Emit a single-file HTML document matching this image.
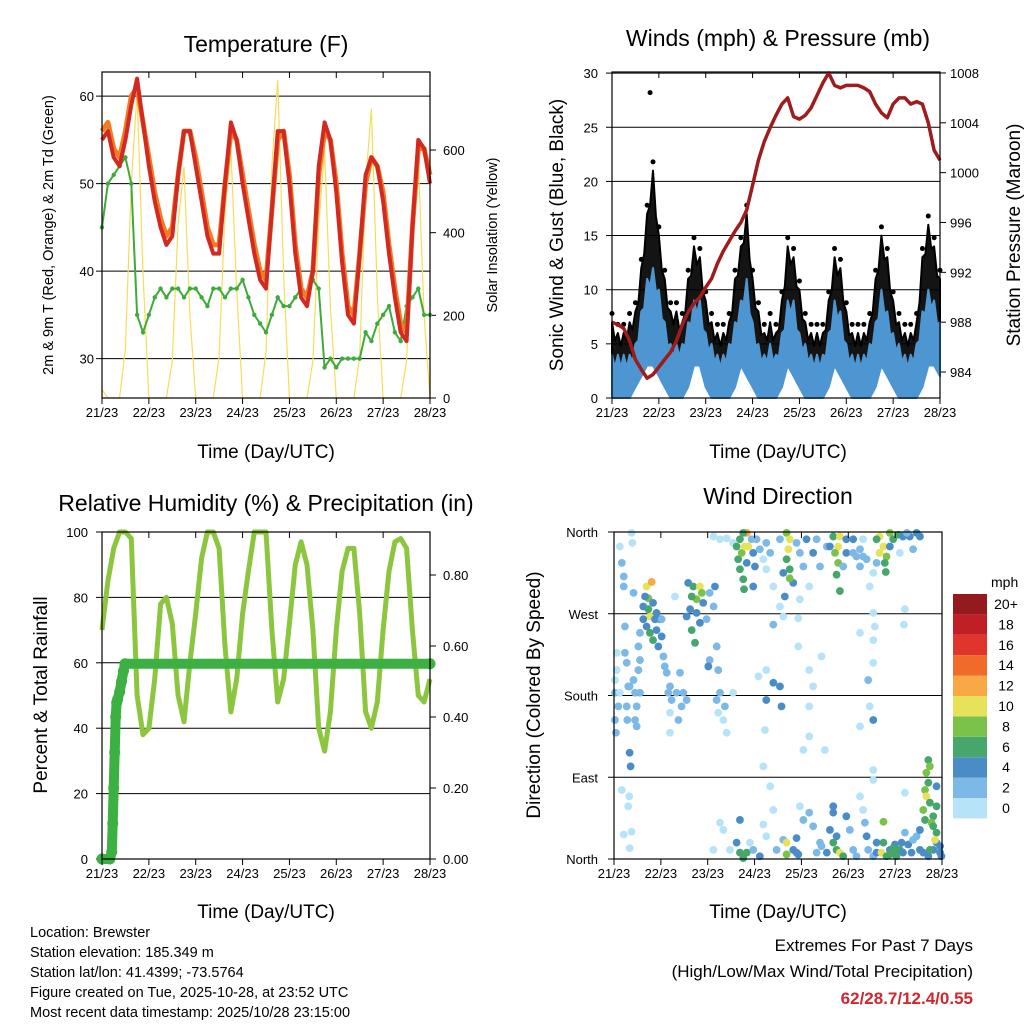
<!DOCTYPE html>
<html><head><meta charset="utf-8">
<style>
html,body{margin:0;padding:0;background:#fff;}
svg{display:block;font-family:"Liberation Sans",sans-serif;}
</style></head>
<body>
<svg id="chart" width="1024" height="1024" viewBox="0 0 1024 1024" xmlns="http://www.w3.org/2000/svg">
<rect x="0" y="0" width="1024" height="1024" fill="#fff"/>
<g id="g"></g>
<g fill="#000">
<text x="266" y="52" font-size="23" text-anchor="middle">Temperature (F)</text>
<text x="778" y="46" font-size="23" text-anchor="middle">Winds (mph) &amp; Pressure (mb)</text>
<text x="266" y="511" font-size="23" text-anchor="middle">Relative Humidity (%) &amp; Precipitation (in)</text>
<text x="778" y="504" font-size="23" text-anchor="middle">Wind Direction</text>
<text x="266" y="458" font-size="19" text-anchor="middle">Time (Day/UTC)</text>
<text x="778" y="458" font-size="19" text-anchor="middle">Time (Day/UTC)</text>
<text x="266" y="918" font-size="19" text-anchor="middle">Time (Day/UTC)</text>
<text x="778" y="918" font-size="19" text-anchor="middle">Time (Day/UTC)</text>
<text transform="translate(53,235) rotate(-90)" font-size="14.5" text-anchor="middle">2m &amp; 9m T (Red, Orange) &amp; 2m Td (Green)</text>
<text transform="translate(497,235) rotate(-90)" font-size="14.5" text-anchor="middle">Solar Insolation (Yellow)</text>
<text transform="translate(563,235) rotate(-90)" font-size="19" text-anchor="middle">Sonic Wind &amp; Gust (Blue, Black)</text>
<text transform="translate(1020,235) rotate(-90)" font-size="19" text-anchor="middle">Station Pressure (Maroon)</text>
<text transform="translate(47,695) rotate(-90)" font-size="19" text-anchor="middle">Percent &amp; Total Rainfall</text>
<text transform="translate(540,695) rotate(-90)" font-size="19" text-anchor="middle">Direction (Colored By Speed)</text>
</g>
<g font-size="14.5" fill="#000">
<text x="30" y="937">Location: Brewster</text>
<text x="30" y="957">Station elevation: 185.349 m</text>
<text x="30" y="977">Station lat/lon: 41.4399; -73.5764</text>
<text x="30" y="997">Figure created on Tue, 2025-10-28, at 23:52 UTC</text>
<text x="30" y="1017">Most recent data timestamp: 2025/10/28 23:15:00</text>
</g>
<g text-anchor="end">
<text x="973" y="951" font-size="17">Extremes For Past 7 Days</text>
<text x="973" y="977" font-size="17">(High/Low/Max Wind/Total Precipitation)</text>
<text x="973" y="1004" font-size="17" font-weight="bold" fill="#d0262c">62/28.7/12.4/0.55</text>
</g>
</svg>
<script>
// ---- data (3-hourly, hours 0..168 from 21/23) ----
const dayLabels = ["21/23","22/23","23/23","24/23","25/23","26/23","27/23","28/23"];
const temp2m = [55,56,53,52,55,59,62,57,52,48,45,43,44,51,56,56,52,48,44,42,42,50,57,55,50,46,42,39,38,47,56,56,50,42,37,36,40,52,57,55,49,41,35,34,42,51,53,52,48,42,37,33,32,45,55,54,50];
const temp9m = [56,57,54,53,56,60,61,57,53,49,46,44,45,51,56,56,53,49,45,43,43,50,56,55,51,47,43,40,39,47,55,56,51,43,38,37,40,51,56,55,50,42,36,35,42,50,53,52,49,43,38,34,33,45,54,54,51];
const dewpoint = [45,50,51,52,53,50,35,33,35,37,38,37,38,38,37,38,38,37,36,38,38,37,38,38,39,37,35,34,33,35,37,36,36,37,38,37,39,38,29,30,29,30,30,30,30,33,32,34,35,36,33,32,36,37,38,35,35];
const solar = [20,0,0,0,120,520,740,300, 0,0,0,0,90,420,560,200, 0,0,0,0,100,450,600,260, 0,0,0,0,110,560,770,300, 0,0,0,0,90,420,600,220, 0,0,0,0,100,520,700,250, 0,0,0,0,90,400,580,200,0];
const gustHigh = [7,6,6,7,8,12,17,21,15,11,8,8,7,11,14,13,9,7,6,6,7,11,14,17,11,8,6,7,6,9,14,13,10,7,6,6,6,9,13,12,8,6,6,6,7,11,15,13,9,7,6,6,7,13,16,14,11];
const gustLow = [2,2,1,1,2,4,5,6,4,3,2,2,2,3,5,5,3,2,2,1,2,3,5,4,3,2,1,1,2,3,5,4,3,1,1,1,1,3,5,4,2,1,1,1,2,3,5,4,3,2,1,1,2,3,5,4,4];
const windHigh = [4,4,4,4,5,8,11,12,10,7,5,5,5,7,9,9,6,5,4,4,5,7,9,11,7,5,4,5,4,6,9,9,6,5,4,4,4,6,9,8,5,4,4,4,5,7,10,8,6,5,4,4,5,8,10,9,7];
const windLow = [0,0,0,0,1,2,3,3,2,1,0,0,0,1,3,3,1,0,0,0,0,1,3,2,1,0,0,0,0,1,3,2,1,0,0,0,0,1,3,2,1,0,0,0,0,1,3,2,1,0,0,0,0,1,3,3,2];
const maxGustHour = 19.5;
const maxGustValue = 28.2;
const pressure = [988,987.8,987.5,986.5,985,984.2,983.5,983.8,984.4,985,985.6,986.5,987.8,988.8,989.5,990,990.8,991.5,992.7,993.7,994.5,995.3,996,997,999,1001,1002.5,1003.6,1004.6,1005.5,1006,1004.5,1004.3,1004.6,1005.2,1006.2,1007.2,1008,1007,1006.8,1007,1007,1007,1006.8,1006.5,1005.5,1004.8,1004.4,1005.5,1006,1006,1005.5,1005.7,1005.5,1004,1001.8,1001];
const humidity = [70,85,95,100,100,98,50,38,40,55,78,80,72,50,42,60,75,92,100,100,95,65,45,55,75,88,100,100,100,70,48,55,72,90,97,90,70,40,33,45,70,88,95,95,75,45,40,48,70,88,97,98,95,70,50,48,55];
const precipHours = [0,4,5,5.5,6,6.5,7,7.5,8,9,10,11,11.8,168];
const precipTotals = [0,0,0.02,0.1,0.2,0.3,0.4,0.44,0.45,0.47,0.5,0.53,0.55,0.55];
const speedLevels = ["0","2","4","6","8","10","12","14","16","18","20+"];
const speedColors = ["#b6e3f8","#7cb9e6","#4a8dc6","#46a66c","#7bc24a","#e6e25a","#f8a844","#f06a2a","#e0352a","#c01f26","#941a1d"];
const dirObs = [
[0.5,197,1],[0.5,183,2],[1,139,2],[1.4,208,1],[3,344,1],[4,326,2],[5,311,2],[5,300,3],[5.6,256,3],[5.6,227,2],[6.5,216,2],[6.5,168,2],[6.8,153,3],[7.3,190,2],[8,117,4],[8.5,102,5],[9,359,0],[9.4,348,1],[10,293,2],[10,197,2],[10.8,183,3],[10.8,153,2],[11.6,168,2],[12.5,208,2],[12.5,234,2],[13.3,219,3],[13.3,183,2],[7.8,69,1],[7.3,58,0],[4,76,0],[5,27,0],[8,12,0],[9,30,1],[0.5,153,2],[2.2,168,2],[3,183,1],[1.4,227,1],[8,190,2],[11.6,146,2],
[16.7,300,10],[19.3,305,13],[17.6,287,8],[18.4,267,10],[15,264,4],[16.7,256,5],[20,282,4],[21.8,271,4],[23.5,264,4],[24.4,245,4],[18.4,249,6],[20,241,6],[21.8,252,4],[22.7,234,4],[15,278,4],[15.9,289,4],[13.3,249,2],[25.3,223,2],[27,205,2],[28.7,190,2],[29.5,175,2],[28.7,161,1],[28.7,139,0],[32,183,3],[33.8,205,3],[34.6,168,3],[33,153,2],[35.5,183,2],[37.2,175,2],[31.2,289,1],[21,264,5],[17.6,275,6],[24.4,264,3],[26,212,3],[27.8,183,3],
[38,304,4],[40.6,300,7],[44,300,10],[45,293,9],[42.3,286,8],[39.8,289,6],[39,275,4],[37.2,267,4],[42.3,271,5],[39.8,252,6],[41.5,238,6],[44,260,4],[45.7,282,4],[47.4,264,3],[49,293,3],[51.7,300,4],[51,278,2],[52.6,234,2],[53.4,208,2],[54.3,183,3],[56,153,1],[57.7,139,1],[53.4,161,1],[56.8,168,2],[61,183,1],[49,219,2],[48.3,212,4],[52.6,175,3],
[51,355,0],[54.3,352,1],[57.7,353,0],[61,348,1],[62.8,344,6],[63.6,330,7],[64.5,319,6],[66.2,308,6],[66.6,297,6],[65.4,337,8],[68,359,12],[67,344,10],[68.8,344,10],[71.3,337,4],[72.2,322,4],[71.3,300,4],[73,352,2],[74.7,341,2],[76.5,330,1],[78,348,2],[78,319,1],[80,337,2],[81.6,300,1],[85,278,1],[86.7,267,1],[81.6,258,3],[78,208,1],[81.6,194,4],[85,190,4],[85.8,168,4],[78,175,4],[77.3,142,1],[76.5,102,1],[74,201,1],[66.2,359,7],[64.5,352,6],[70.5,352,3],[68,326,5],
[88.4,359,8],[90,352,10],[89.3,341,10],[88.4,330,7],[90,319,6],[86.7,315,4],[91.8,304,4],[93.5,348,2],[95.2,337,2],[98.6,352,4],[97,322,2],[100,300,1],[95.2,286,1],[87.5,289,4],[90,309,8],[94.4,265,1],[94.4,234,1],[100,208,1],[102,190,1],[100,168,1],[100,135,1],[97,120,0],[108,120,0],[106.3,223,1],[85,352,3],[103.8,352,3],[102,337,4],[105.5,322,2],[109,344,2],
[112.3,355,7],[115.7,355,10],[114.8,344,10],[113.2,337,8],[114.8,326,8],[114,313,7],[115.7,295,6],[110.6,344,4],[119,337,4],[122.5,352,5],[124.2,333,2],[126,341,2],[129.4,330,2],[127.6,352,1],[119,352,4],[126,322,3],[117.4,322,2],[126,249,1],[132.8,271,1],[133.6,256,1],[132.8,216,1],[130.2,197,3],[131,168,1],[132.8,153,4],[132.8,98,1],[132.8,87,0],[126,146,0],[132.8,241,0],[122.5,337,2],[127.6,333,3],
[136,355,10],[138,344,10],[136,337,10],[139.6,333,8],[138.7,326,7],[139.2,316,6],[134.5,352,7],[141.3,359,8],[143,352,6],[145.6,357,6],[148,355,4],[151.5,355,4],[156.7,355,4],[153.2,341,2],[146.4,337,1],[141.3,344,4],[134.5,326,3],[132.8,315,1],[131,300,1],[149,275,1],[148.5,258,1],[155,359,4],[150,359,3],
[50.9,10,0],[54.3,40,0],[56,32,1],[59.4,10,0],[62.8,18,4],[64.5,7,6],[68,7,6],[66.2,1,6],[64.5,43,4],[69.6,18,1],[71.3,10,2],[74.7,3,4],[76.5,38,1],[78,25,1],[80,80,0],[81.6,54,1],[83.3,10,2],[86.7,21,3],[88.4,18,10],[88.4,5,8],[91.8,10,4],[93.5,23,4],[94.4,5,4],[97,43,2],[95.2,58,0],[100,51,3],[102,36,2],[103.8,7,2],[105.5,18,3],[109,7,4],[110.6,32,4],[112.3,58,5],[112.3,51,5],[112.3,18,7],[114,10,7],[115.7,7,10],[117.4,3,7],[119,47,4],[120.8,32,2],[122.5,10,2],[124.2,3,3],[126,69,0],[127.6,54,1],[128.5,40,2],[129.4,25,4],[130.2,10,3],[132.8,3,2],[134.5,18,4],[134.5,7,4],[137,7,10],[138,18,7],[138,41,8],[139.6,3,6],[141.3,10,4],[143,7,6],[143.9,16,4],[144.7,3,6],[146.4,10,6],[147.3,18,4],[148,7,4],[149,29,2],[150.7,16,4],[152.4,7,4],[153.2,21,3],[155,25,3],[156.7,10,4],[158.4,7,4],[161,3,4],[163.5,10,4],[165.2,18,4],[167,7,4],[167.7,3,4],[106.3,14,2],[141.3,5,6],[143,12,6],[93.5,7,4],[114,25,5],
[161,109,7],[161.8,102,8],[160,95,8],[161,84,7],[159.3,76,8],[160,69,10],[165.2,80,4],[161.8,62,7],[158.4,54,8],[159.3,43,6],[163.5,47,6],[162.6,40,8],[165.2,29,6],[164.4,21,10],[161.8,10,6],[156.7,32,4],[165.2,58,6],[167,14,4],[149,73,1],[163.5,36,7]
];

// ---- helpers ----
const NS = "http://www.w3.org/2000/svg";
const root = document.getElementById('g');
function mk(tag, attrs, parent){
  const e = document.createElementNS(NS, tag);
  for (const k in attrs) e.setAttribute(k, attrs[k]);
  (parent || root).appendChild(e);
  return e;
}
const hours = temp2m.map((_, i) => i * 3);
const P1 = {x0:102,x1:430,y0:72,y1:398};
const P2 = {x0:612,x1:940,y0:72,y1:398};
const P3 = {x0:102,x1:430,y0:532,y1:859};
const P4 = {x0:614,x1:942,y0:532,y1:859};
function xs(P, h){ return P.x0 + h / 168 * (P.x1 - P.x0); }
const yT = v => 398 - (v - 25.5) * 8.75;
const yS = v => 398 - v * 0.4133;
const yW = v => 398 - v * 10.83;
const yP = v => 372 - (v - 984) * 12.46;
const yR = v => 859 - v * 3.27;
const yPr = v => 859 - v * 355;
const yD = d => 859 - d / 360 * 327;
function pathFrom(P, xsArr, vals, yf){
  return vals.map((v, i) => (i ? 'L' : 'M') + xs(P, xsArr[i]).toFixed(1) + ',' + yf(v).toFixed(1)).join(' ');
}

// ---- axes ----
function frame(P, nm){
  const r = mk('rect', {x:P.x0, y:P.y0, width:P.x1-P.x0, height:P.y1-P.y0, fill:'none', stroke:'#000', 'stroke-width':1.2});
  
  
  dayLabels.forEach((lab, i) => {
    const x = xs(P, i * 24);
    const tb = mk('line', {x1:x, x2:x, y1:P.y1, y2:P.y1 + 6, stroke:'#000', 'stroke-width':1});
    
    
    const tt = mk('line', {x1:x, x2:x, y1:P.y0, y2:P.y0 + 6, stroke:'#000', 'stroke-width':1});
    
    
    const t = mk('text', {x:x, y:P.y1 + 19, 'font-size':13, 'text-anchor':'middle'});
    t.textContent = lab;
    
    
  });
}
function leftAxis(P, vals, labels, yf, grid, lx){
  vals.forEach((v, i) => {
    const y = yf(v);
    if (grid) {
      const g = mk('line', {x1:P.x0, x2:P.x1, y1:y, y2:y, stroke:'#000', 'stroke-width':1});
      
      
    }
    const tk = mk('line', {x1:P.x0 - 6, x2:P.x0, y1:y, y2:y, stroke:'#000'});
    
    
    const t = mk('text', {x:lx, y:y + 5, 'font-size':13, 'text-anchor':'end'});
    t.textContent = labels[i];
    
    
  });
}
function rightAxis(P, vals, labels, yf, lx){
  vals.forEach((v, i) => {
    const y = yf(v);
    const tk = mk('line', {x1:P.x1, x2:P.x1 + 6, y1:y, y2:y, stroke:'#000'});
    
    
    const t = mk('text', {x:lx, y:y + 5, 'font-size':13, 'text-anchor':'start'});
    t.textContent = labels[i];
    
    
  });
}

// ---- Panel 1: temperature ----
leftAxis(P1, [30,40,50,60], ["30","40","50","60"], yT, true, 94);
rightAxis(P1, [0,200,400,600], ["0","200","400","600"], yS, 443);
const solarLine = mk('path', {d:pathFrom(P1, hours, solar, yS), fill:'none', stroke:'#f7dc5a', 'stroke-width':1.2});


const dewLine = mk('path', {d:pathFrom(P1, hours, dewpoint, yT), fill:'none', stroke:'#3faa3c', 'stroke-width':2});


dewpoint.forEach((v, i) => {
  const c = mk('circle', {cx:xs(P1, hours[i]), cy:yT(v), r:2.2, fill:'#3faa3c'});
  
  
});
const t9 = mk('path', {d:pathFrom(P1, hours, temp9m, yT), fill:'none', stroke:'#f47c20', 'stroke-width':5, 'stroke-linejoin':'round'});


const t2 = mk('path', {d:pathFrom(P1, hours, temp2m, yT), fill:'none', stroke:'#d22a22', 'stroke-width':4, 'stroke-linejoin':'round'});


frame(P1, 'temperature');

// ---- Panel 2: winds & pressure ----
leftAxis(P2, [0,5,10,15,20,25,30], ["0","5","10","15","20","25","30"], yW, true, 598);
rightAxis(P2, [984,988,992,996,1000,1004,1008], ["984","988","992","996","1000","1004","1008"], yP, 950);
function band(P, hi, lo, yf){
  const top = [];
  hi.forEach((v, i) => {
    top.push(xs(P, hours[i]).toFixed(1) + ',' + yf(v).toFixed(1));
    if (i < hi.length - 1) {
      const xm = xs(P, hours[i] + 1.5);
      const vm = (v + hi[i + 1]) / 2 - 1.2;
      top.push(xm.toFixed(1) + ',' + yf(vm).toFixed(1));
    }
  });
  const bot = lo.map((v, i) => xs(P, hours[i]).toFixed(1) + ',' + yf(v).toFixed(1)).reverse();
  return top.concat(bot).join(' ');
}
const gustBand = mk('polygon', {points:band(P2, gustHigh, gustLow, yW), fill:'#000', stroke:'#000', 'stroke-width':2, 'stroke-linejoin':'round', 'fill-opacity':0.92});


gustHigh.forEach((v, i) => {
  const c = mk('circle', {cx:xs(P2, hours[i]), cy:yW(v + 0.8), r:2.5, fill:'#000'});
  
  
});
const mg = mk('circle', {cx:xs(P2, maxGustHour), cy:yW(maxGustValue), r:2.5, fill:'#000'});


const windBand = mk('polygon', {points:band(P2, windHigh, windLow, yW), fill:'#4d96d1', stroke:'#4d96d1', 'stroke-width':2, 'stroke-linejoin':'round'});


const pLine = mk('path', {d:pathFrom(P2, hours, pressure, yP), fill:'none', stroke:'#a01c1c', 'stroke-width':3.5, 'stroke-linejoin':'round'});


frame(P2, 'winds');

// ---- Panel 3: humidity & precip ----
leftAxis(P3, [0,20,40,60,80,100], ["0","20","40","60","80","100"], yR, true, 88);
rightAxis(P3, [0,0.2,0.4,0.6,0.8], ["0.00","0.20","0.40","0.60","0.80"], yPr, 443);
const rhLine = mk('path', {d:pathFrom(P3, hours, humidity, yR), fill:'none', stroke:'#8cc63f', 'stroke-width':5, 'stroke-linejoin':'round'});


const prLine = mk('path', {d:pathFrom(P3, precipHours, precipTotals, yPr), fill:'none', stroke:'#3cb043', 'stroke-width':10, 'stroke-linecap':'round', 'stroke-linejoin':'round'});


precipTotals.forEach((v, i) => {
  const c = mk('circle', {cx:xs(P3, precipHours[i]), cy:yPr(v), r:5.5, fill:'#3cb043'});
  
  
});
frame(P3, 'humidity');

// ---- Panel 4: wind direction ----
leftAxis(P4, [0,90,180,270,360], ["North","East","South","West","North"], yD, true, 598);
dirObs.forEach(o => {
  const idx = Math.min(10, Math.floor(o[2] / 2));
  const c = mk('circle', {cx:xs(P4, o[0]), cy:yD(o[1]), r:3.9, fill:speedColors[idx]});
  
  
});
frame(P4, 'direction');

// ---- colorbar ----
const cbTitle = mk('text', {x:991, y:587, 'font-size':14});
cbTitle.textContent = 'mph';


speedLevels.forEach((lab, i) => {
  const y = 594 + (10 - i) * 20.4;
  const r = mk('rect', {x:953, y:y, width:34, height:20.4, fill:speedColors[i]});
  
  
  const t = mk('text', {x:1006, y:y + 15, 'font-size':14, 'text-anchor':'middle'});
  t.textContent = lab;
  
  
});
</script>
</body></html>
